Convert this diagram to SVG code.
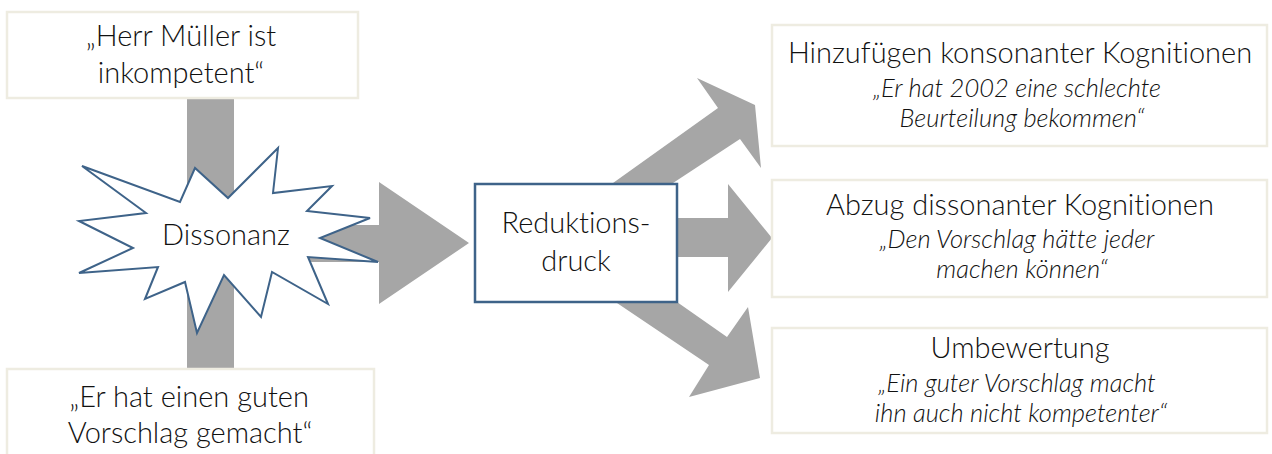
<svg xmlns="http://www.w3.org/2000/svg" width="1272" height="454" viewBox="0 0 1272 454">
<style>
.arrow{fill:#a6a6a6;stroke:none}
.note{fill:#ffffff;stroke:#eeece1;stroke-width:2.5}
.blue{fill:#ffffff;stroke:#3e6389;stroke-width:2.5}
.t{font-family:Lato,"Open Sans","Liberation Sans",sans-serif;font-weight:300;font-size:29px;fill:#111;text-anchor:middle;font-variant-ligatures:none}
.i{font-family:Lato,"Open Sans","Liberation Sans",sans-serif;font-weight:300;font-style:italic;font-size:25.5px;fill:#111;text-anchor:middle;font-variant-ligatures:none}
</style>
<rect width="1272" height="454" fill="#ffffff"/>
<g id="connectors">
<rect class="arrow" x="187" y="96" width="47" height="275"/>
<polygon class="arrow" points="230,225 379,225 379,182 469,243 379,304 379,262 230,262"/>
<polygon class="arrow" points="613,190 613,183 718,108 697,78 755,105 761,168 740,139 673,183 673,190"/>
<polygon class="arrow" points="670,218 728,218 728,184 772,238 728,292 728,257 670,257"/>
<polygon class="arrow" points="617,296 677,296 677,302 727,337 748,307 760,378 689,397 709,365 617,303"/>
</g>
<g id="node-mueller">
<rect class="note" x="7" y="12" width="351" height="86"/>
<text class="t" x="181" y="46">„Herr Müller ist</text>
<text class="t" x="181" y="83">inkompetent“</text>
</g>
<g id="node-vorschlag">
<rect class="note" x="7" y="369" width="367" height="95"/>
<text class="t" x="189" y="407">„Er hat einen guten</text>
<text class="t" x="190" y="443">Vorschlag gemacht“</text>
</g>
<g id="node-dissonanz">
<polygon fill="#ffffff" stroke="#3e6389" stroke-width="2" stroke-linejoin="miter" points="82,166 180,202 195,168 228,198 278,148 273,193 332,186 307,211 370,218 320,238 378,262 308,257 328,304 272,272 261,317 224,275 197,333 185,282 145,299 158,267 79,273 133,248 79,221 146,213"/>
<text class="t" x="226" y="245">Dissonanz</text>
</g>
<g id="node-reduktion">
<rect class="blue" x="475" y="184" width="202" height="118"/>
<text class="t" x="576" y="233">Reduktions-</text>
<text class="t" x="576" y="271">druck</text>
</g>
<g id="node-hinzufuegen">
<rect class="note" x="772" y="25" width="495" height="121"/>
<text class="t" x="1020" y="63">Hinzufügen konsonanter Kognitionen</text>
<text class="i" x="1017" y="97">„Er hat 2002 eine schlechte</text>
<text class="i" x="1022" y="127">Beurteilung bekommen“</text>
</g>
<g id="node-abzug">
<rect class="note" x="772" y="180" width="495" height="117"/>
<text class="t" x="1020" y="215">Abzug dissonanter Kognitionen</text>
<text class="i" x="1017" y="248">„Den Vorschlag hätte jeder</text>
<text class="i" x="1022" y="278">machen können“</text>
</g>
<g id="node-umbewertung">
<rect class="note" x="772" y="328" width="495" height="105"/>
<text class="t" x="1020" y="358">Umbewertung</text>
<text class="i" x="1017" y="392">„Ein guter Vorschlag macht</text>
<text class="i" x="1021" y="422">ihn auch nicht kompetenter“</text>
</g>
</svg>
